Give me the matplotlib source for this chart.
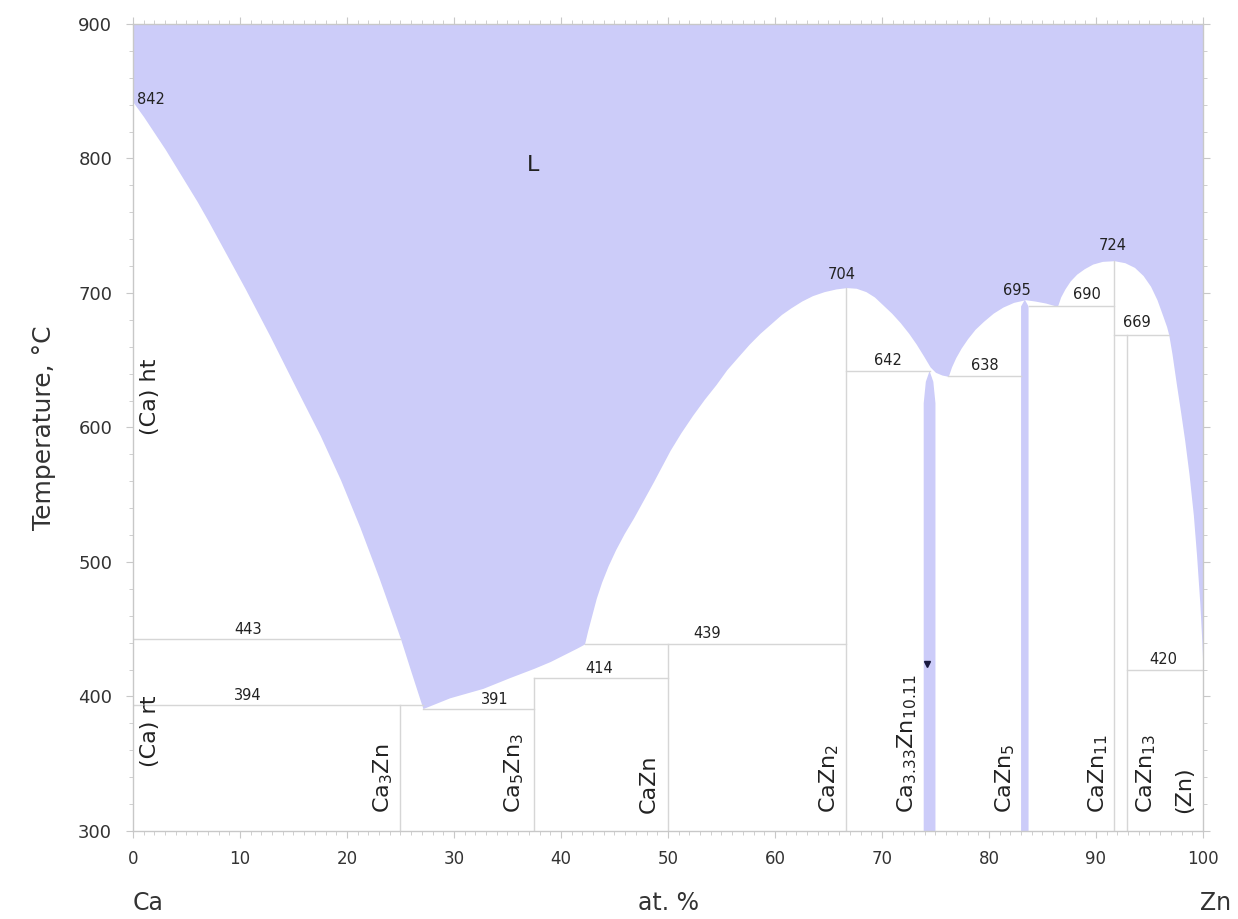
import matplotlib.pyplot as plt
from matplotlib.ticker import MultipleLocator

plt.rcParams['font.family'] = ['DejaVu Sans']
plt.rcParams['mathtext.fontset'] = 'dejavusans'

# liquidus, Ca -> Zn (at. % Zn, degC)
liq_x = [0, 1.0, 2.0, 3.0, 4.0, 5.0, 6.0, 7.0, 8.1, 10.5, 12.8, 15.2,
         17.5, 19.4, 21.2, 23.0, 24.6, 25.0, 26.0, 27.1,
         29.6, 32.7, 35.2, 37.5, 39.0, 40.5, 41.5, 42.2,
         42.5, 42.9, 43.3, 43.8, 44.4, 45.1, 45.9, 46.8, 47.7, 48.6, 49.4,
         50.2, 51.2, 52.3, 53.4, 54.5, 55.5, 56.6, 57.6, 58.6, 59.6, 60.6,
         61.5, 62.5, 63.5, 64.6, 65.7, 66.7, 67.6, 68.5, 69.3, 70.1, 70.9,
         71.7, 72.5, 73.2, 73.9, 74.5, 75.0, 75.6, 76.2,
         76.5, 76.9, 77.4, 78.0, 78.7, 79.5, 80.4, 81.3, 82.3, 83.4, 84.3,
         85.3, 86.4,
         86.7, 87.1, 87.6, 88.2, 88.9, 89.7, 90.6, 91.7, 92.7, 93.6, 94.4,
         95.1, 95.7, 96.2, 96.6, 96.8, 97.1, 97.5, 97.9, 98.3, 98.7, 99.1,
         99.4, 99.7, 99.9, 100]
liq_t = [842, 831, 819, 807, 794, 781, 768, 754, 738, 703, 668, 630,
         594, 561, 526, 488, 452, 443, 418, 391,
         399, 406, 414, 421, 426, 432, 436, 439,
         449, 461, 473, 485, 497, 509, 521, 533, 546, 559, 571,
         583, 596, 609, 621, 632, 643, 653, 662, 670, 677, 684,
         689, 694, 698, 701, 703, 704, 703.5, 701, 697, 691, 685,
         678, 670, 662, 653, 645, 641, 639, 638,
         645, 652, 659, 666, 673, 679, 685, 689.5, 693, 695, 694,
         692.5, 690,
         697, 703, 709, 714, 718, 721.5, 723.5, 724, 722.5, 719, 713,
         705, 695, 684, 675, 669, 655, 633, 612, 590, 565, 535,
         505, 470, 440, 420]

# narrow homogeneity bands of Ca3.33Zn10.11 and CaZn5
band1_x = [73.9, 73.9, 74.1, 74.45, 74.8, 75.0, 75.0]
band1_t = [300, 618, 634, 642, 634, 618, 300]
band2_x = [83.0, 83.0, 83.35, 83.7, 83.7]
band2_t = [300, 690, 695, 690, 300]

# invariant lines: (x start, x end, T)
iso_lines = [(0, 25.0, 443), (0, 27.1, 394), (27.1, 37.5, 391),
             (37.5, 50, 414), (42.2, 66.67, 439), (66.67, 74.45, 642),
             (76.2, 83.0, 638), (83.7, 91.67, 690), (91.67, 96.8, 669),
             (92.86, 100, 420)]
# compound lines: (x, top T)
comp_lines = [(25.0, 394), (37.5, 414), (50.0, 439), (66.67, 704),
              (91.67, 724), (92.86, 669)]

temp_labels = ['842', '443', '394', '391', '414', '439', '704', '642',
               '638', '695', '690', '724', '669', '420']
temp_pos = [(0.4, 844), (10.75, 449.5), (10.75, 401), (33.8, 397.5),
            (43.6, 421), (53.7, 447), (66.2, 713.5), (70.6, 650),
            (79.6, 646), (82.6, 702), (89.2, 698.5), (91.6, 735.5),
            (93.8, 678), (96.3, 427.5)]

phase_names = [r'Ca$_3$Zn', r'Ca$_5$Zn$_3$', 'CaZn', r'CaZn$_2$',
               r'Ca$_{3.33}$Zn$_{10.11}$', r'CaZn$_5$', r'CaZn$_{11}$',
               r'CaZn$_{13}$', '(Zn)']
phase_x = [23.4, 35.6, 48.2, 65.1, 72.4, 81.5, 90.2, 94.7, 98.2]

fill_color = '#ccccf9'
line_color = '#d6d6d6'
text_color = '#222222'

fig = plt.figure(figsize=(12.38, 9.19), dpi=100)
ax = fig.add_axes([0.1074, 0.0958, 0.8643, 0.8781])

ax.fill_between(liq_x, liq_t, 900, color=fill_color, lw=0, zorder=1)
ax.fill(band1_x, band1_t, color=fill_color, lw=0, zorder=1)
ax.fill(band2_x, band2_t, color=fill_color, lw=0, zorder=1)

for x0, x1, t in iso_lines:
    ax.plot([x0, x1], [t, t], color=line_color, lw=1.0, zorder=2)
for x, t in comp_lines:
    ax.plot([x, x], [300, t], color=line_color, lw=1.0, zorder=2)

ax.plot([74.2], [424], marker='v', color='#1a1a40', ms=4, zorder=3)

for lab, (x, t) in zip(temp_labels, temp_pos):
    ha = 'left' if lab == '842' else 'center'
    ax.text(x, t, lab, fontsize=10.5, ha=ha, va='center', color=text_color)

for name, x in zip(phase_names, phase_x):
    ax.text(x, 313, name, rotation=90, fontsize=16, ha='center',
            va='bottom', color=text_color)

ax.text(1.6, 623, '(Ca) ht', rotation=90, fontsize=16, ha='center',
        va='center', color=text_color)
ax.text(1.6, 374, '(Ca) rt', rotation=90, fontsize=16, ha='center',
        va='center', color=text_color)
ax.text(37.4, 795, 'L', fontsize=16, ha='center', va='center',
        color=text_color)

ax.set_xlim(0, 100)
ax.set_ylim(300, 900)
ax.xaxis.set_major_locator(MultipleLocator(10))
ax.xaxis.set_minor_locator(MultipleLocator(1))
ax.yaxis.set_major_locator(MultipleLocator(100))
ax.yaxis.set_minor_locator(MultipleLocator(20))

for side in ax.spines.values():
    side.set_color('#c8c8c8')
    side.set_linewidth(1.0)

ax.tick_params(which='both', direction='out', color='#c8c8c8',
               top=True, right=True, labeltop=False, labelright=False)
ax.tick_params(which='major', length=5)
ax.tick_params(which='minor', length=3)
ax.tick_params(axis='x', labelsize=12, pad=9, labelcolor='#333333')
ax.tick_params(axis='y', labelsize=13, pad=10, labelcolor='#333333')

ax.set_ylabel('Temperature, °C', fontsize=18, color='#333333', labelpad=16)
fig.text(0.1074, 0.004, 'Ca', fontsize=17, ha='left', va='bottom',
         color='#333333')
fig.text(0.5397, 0.004, 'at. %', fontsize=17, ha='center', va='bottom',
         color='#333333')
fig.text(0.9815, 0.004, 'Zn', fontsize=17, ha='center', va='bottom',
         color='#333333')

fig.savefig('out.png', dpi=100, facecolor='white')
